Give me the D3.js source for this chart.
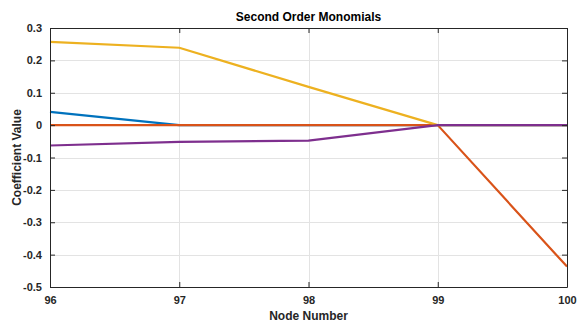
<!DOCTYPE html>
<html>
<head>
<meta charset="utf-8">
<script src="https://cdn.jsdelivr.net/npm/d3@7"></script>
<style>
  body { margin: 0; background: #fff; }
  text { font-family: "Liberation Sans", Arial, sans-serif; }
</style>
</head>
<body>
<div id="chart"></div>
<script>
// node numbers along x
const nodes = [96, 97, 98, 99, 100];
const yTicks = [0.3, 0.2, 0.1, 0, -0.1, -0.2, -0.3, -0.4, -0.5];

// coefficient series (MATLAB default colour order)
const seriesBlue = [0.041, 0, 0, 0, 0];
const seriesOrange = [0, 0, 0, 0, -0.437];
const seriesYellow = [0.257, 0.239, 0.118, 0, 0];
const seriesPurple = [-0.063, -0.052, -0.048, 0, 0];

const series = [
  { values: seriesBlue, color: "#0072BD" },
  { values: seriesOrange, color: "#D95319" },
  { values: seriesYellow, color: "#EDB120" },
  { values: seriesPurple, color: "#7E2F8E" }
];

const width = 578, height = 326;
const margin = { top: 28, right: 11, bottom: 39, left: 50 };

const svg = d3.select("#chart").append("svg")
  .attr("width", width)
  .attr("height", height);

const x = d3.scaleLinear().domain([96, 100]).range([margin.left, width - margin.right]);
const y = d3.scaleLinear().domain([-0.5, 0.3]).range([height - margin.bottom, margin.top]);

// grid
const grid = svg.append("g").attr("stroke", "#e3e3e3").attr("stroke-width", 1);
grid.selectAll(".gx").data(nodes).enter().append("line")
  .attr("x1", d => Math.round(x(d)) + 0.5).attr("x2", d => Math.round(x(d)) + 0.5)
  .attr("y1", y(0.3)).attr("y2", y(-0.5));
grid.selectAll(".gy").data(yTicks).enter().append("line")
  .attr("y1", d => Math.round(y(d)) + 0.5).attr("y2", d => Math.round(y(d)) + 0.5)
  .attr("x1", x(96)).attr("x2", x(100));

// lines
const line = d3.line().x((d, i) => x(nodes[i])).y(d => y(d));
svg.selectAll(".series").data(series).enter().append("path")
  .attr("fill", "none")
  .attr("stroke", d => d.color)
  .attr("stroke-width", 2.2)
  .attr("stroke-linejoin", "round")
  .attr("d", d => line(d.values));

// axes (ticks point inward, box on)
const fmtY = d => d === 0 ? "0" : d3.format(".1f")(d).replace("\u2212", "-");
const axisStyle = g => {
  g.select(".domain").attr("stroke", "#262626").attr("stroke-width", 1);
  g.selectAll(".tick line").attr("stroke", "#262626");
  g.selectAll(".tick text").attr("fill", "#262626")
    .style("font-size", "11px").style("font-weight", "bold");
};

svg.append("g")
  .attr("transform", `translate(0,${y(-0.5)})`)
  .call(d3.axisBottom(x).tickValues(nodes).tickSize(-5).tickPadding(9).tickSizeOuter(0).tickFormat(d3.format("d")))
  .call(axisStyle);

svg.append("g")
  .attr("transform", `translate(0,${y(0.3)})`)
  .call(d3.axisTop(x).tickValues(nodes).tickSize(-5).tickSizeOuter(0).tickFormat(""))
  .call(axisStyle);

svg.append("g")
  .attr("transform", `translate(${x(96)},0)`)
  .call(d3.axisLeft(y).tickValues(yTicks).tickSize(-5).tickPadding(8).tickSizeOuter(0).tickFormat(fmtY))
  .call(axisStyle);

svg.append("g")
  .attr("transform", `translate(${x(100)},0)`)
  .call(d3.axisRight(y).tickValues(yTicks).tickSize(-5).tickSizeOuter(0).tickFormat(""))
  .call(axisStyle);

// title and labels
svg.append("text")
  .attr("x", (x(96) + x(100)) / 2).attr("y", 21)
  .attr("text-anchor", "middle")
  .style("font-size", "12px").style("font-weight", "bold")
  .text("Second Order Monomials");

svg.append("text")
  .attr("x", (x(96) + x(100)) / 2).attr("y", 320)
  .attr("text-anchor", "middle")
  .style("font-size", "12px").style("font-weight", "bold").attr("fill", "#262626")
  .text("Node Number");

svg.append("text")
  .attr("transform", `translate(21,${(y(0.3) + y(-0.5)) / 2}) rotate(-90)`)
  .attr("text-anchor", "middle")
  .style("font-size", "12px").style("font-weight", "bold").attr("fill", "#262626")
  .text("Coefficient Value");
</script>
</body>
</html>
